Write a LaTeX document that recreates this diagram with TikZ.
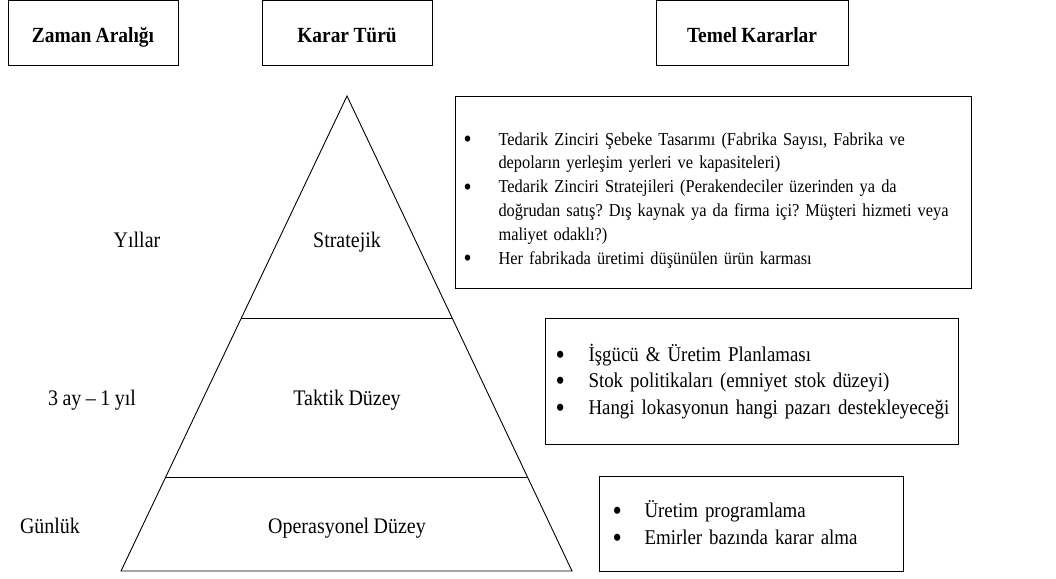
\documentclass[tikz,border=0pt]{standalone}
\usepackage{fontspec}
\setmainfont{Liberation Serif}[FakeStretch=0.9,WordSpace=0.9]
\usetikzlibrary{calc}
\frenchspacing
\newcommand\bigbullet{\raisebox{-0.13em}{\scalebox{1.4}{\textbullet}}}
\newcommand\bitem[2]{\mbox{\makebox[#1][l]{\bigbullet}#2}}
\newcommand\bcont[2]{\mbox{\hspace*{#1}#2}}
\begin{document}
\begin{tikzpicture}[x=1pt,y=-1pt,
  headbox/.style={draw,line width=1pt,minimum height=64pt,inner sep=0pt,
    text height=18pt,text depth=0pt,
    font=\fontsize{21.6}{25}\selectfont\bfseries},
  listbox/.style={draw,line width=1pt,anchor=north west,align=left,inner ysep=0pt},
  lvl/.style={anchor=base,font=\fontsize{22.2}{25}\selectfont},
  tier/.style={line width=0.9pt}]
\useasboundingbox (0,0) rectangle (1056,578);

% column headings
\node[headbox,minimum width=170pt] (hzaman) at (93,33) {Zaman Aralığı};
\node[headbox,minimum width=170pt] (hkarar) at (347,33) {Karar Türü};
\node[headbox,minimum width=192pt] (htemel) at (752,33) {Temel Kararlar};

% pyramid
\coordinate (apex) at (347,96);
\coordinate (bl) at (121,571);
\coordinate (br) at (572,571);
\draw[tier] (apex) -- (bl) -- (br) -- cycle;
\coordinate (s1l) at ($(apex)!0.4674!(bl)$);
\coordinate (s1r) at ($(apex)!0.4674!(br)$);
\coordinate (s2l) at ($(apex)!0.8021!(bl)$);
\coordinate (s2r) at ($(apex)!0.8021!(br)$);
\draw[tier] (s1l) -- (s1r);
\draw[tier] (s2l) -- (s2r);

% level names and time spans (placed on their baselines)
\node[lvl] (strat) at (347,247) {Stratejik};
\node[lvl] (takt) at (347,405) {Taktik Düzey};
\node[lvl] (oper) at (347,533) {Operasyonel Düzey};
\node[lvl] (yil) at (137,247) {Yıllar};
\node[lvl] (ay) at (92,405) {3 ay – 1 yıl};
\node[lvl] (gun) at (50,533) {Günlük};

% key decisions
\node[listbox,minimum width=516pt,minimum height=192pt,inner xsep=8pt,
  text width=500pt,font=\fontsize{18.2}{23.8}\selectfont] (kstrat) at (455,96) {%
  \rule{0pt}{28pt}\bitem{35pt}{Tedarik Zinciri Şebeke Tasarımı (Fabrika Sayısı, Fabrika ve}\\
  \bcont{35pt}{depoların yerleşim yerleri ve kapasiteleri)}\\
  \bitem{35pt}{Tedarik Zinciri Stratejileri (Perakendeciler üzerinden ya da}\\
  \bcont{35pt}{doğrudan satış? Dış kaynak ya da firma içi? Müşteri hizmeti veya}\\
  \bcont{35pt}{maliyet odaklı?)}\\
  \bitem{35pt}{Her fabrikada üretimi düşünülen ürün karması}};

\node[listbox,minimum width=413pt,minimum height=126pt,inner xsep=10pt,
  text width=393pt,font=\fontsize{21}{26.5}\selectfont] (ktakt) at (545,318) {%
  \bitem{33pt}{İşgücü \& Üretim Planlaması}\\
  \bitem{33pt}{Stok politikaları (emniyet stok düzeyi)}\\
  \bitem{33pt}{Hangi lokasyonun hangi pazarı destekleyeceği}};

\node[listbox,minimum width=304pt,minimum height=95pt,inner xsep=13pt,
  text width=278pt,font=\fontsize{21}{27}\selectfont] (koper) at (599,476) {%
  \bitem{32pt}{Üretim programlama}\\
  \bitem{32pt}{Emirler bazında karar alma}};
\end{tikzpicture}
\end{document}
